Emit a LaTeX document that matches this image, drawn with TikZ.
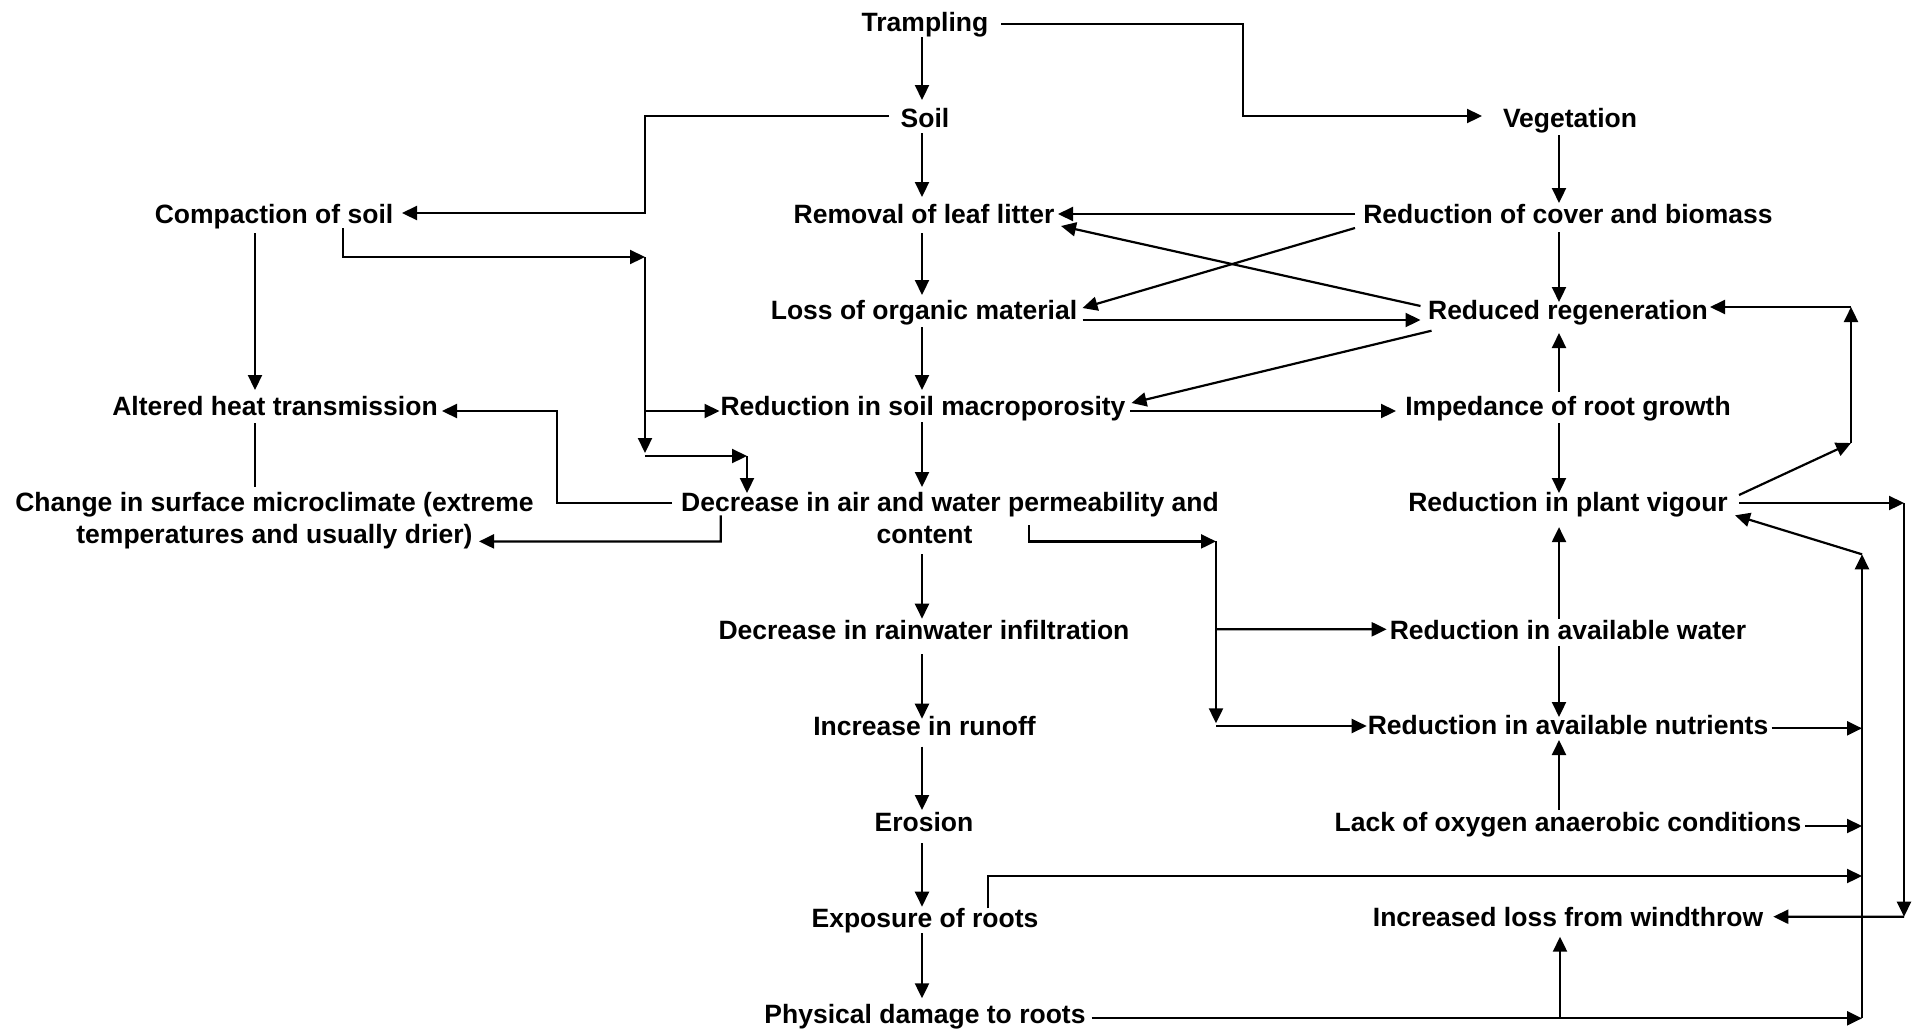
\documentclass[tikz,border=0pt]{standalone}
\usepackage{fontspec}
\setmainfont{Liberation Sans}
\usetikzlibrary{arrows.meta,calc}
\tikzset{
  lbl/.style={inner xsep=0pt, inner ysep=3pt, text height=9.5pt, text depth=0pt,
    font=\fontsize{13.25pt}{16pt}\selectfont\bfseries},
  arr/.style={line width=1.1pt, -{Triangle[length=7.5pt,width=7pt]}},
  ln/.style={line width=1.1pt}
}
\begin{document}
\begin{tikzpicture}[x=0.5pt,y=-0.5pt]
\useasboundingbox (0,0) rectangle (1922,1029);
% nodes
\node[lbl] (tramp) at (925,22) {Trampling};
\node[lbl] (soil) at (925,118) {Soil};
\node[lbl] (veg) at (1570,118) {Vegetation};
\node[lbl] (comp) at (274,214) {Compaction of soil};
\node[lbl] (remov) at (924,214) {Removal of leaf litter};
\node[lbl] (cover) at (1568,214) {Reduction of cover and biomass};
\node[lbl] (loss) at (924,310) {Loss of organic material};
\node[lbl] (regen) at (1568,310) {Reduced regeneration};
\node[lbl] (heat) at (275,406) {Altered heat transmission};
\node[lbl] (macro) at (923,406) {Reduction in soil macroporosity};
\node[lbl] (imped) at (1568,406) {Impedance of root growth};
\node[lbl] (chg1) at (274.5,502) {Change in surface microclimate (extreme};
\node[lbl] (chg2) at (274.5,534) {temperatures and usually drier)};
\node[lbl] (dec1) at (950,502) {Decrease in air and water permeability and};
\node[lbl] (dec2) at (924.5,534) {content};
\node[lbl] (vigour) at (1568,502) {Reduction in plant vigour};
\node[lbl] (rain) at (924,629.5) {Decrease in rainwater infiltration};
\node[lbl] (water) at (1568,629.5) {Reduction in available water};
\node[lbl] (runoff) at (924.5,725.5) {Increase in runoff};
\node[lbl] (nutr) at (1568,725) {Reduction in available nutrients};
\node[lbl] (eros) at (924,821.5) {Erosion};
\node[lbl] (oxy) at (1568,821.5) {Lack of oxygen anaerobic conditions};
\node[lbl] (expo) at (925,918) {Exposure of roots};
\node[lbl] (wind) at (1568,917) {Increased loss from windthrow};
\node[lbl] (phys) at (925,1013.5) {Physical damage to roots};
% junction coordinates
\coordinate (jA) at (645,257);
\coordinate (jA2) at (645,453);
\coordinate (jB) at (1851,443);
\coordinate (jB2) at (1851,307);
\coordinate (jC) at (1904,503);
\coordinate (jC2) at (1904,916.7);
\coordinate (jD) at (1862,554.3);
\coordinate (jD0) at (1862,1018.3);
\coordinate (jE) at (1216,541.4);
\coordinate (jE2) at (1216,723.3);
\coordinate (jF) at (747,456);
% main column
\draw[arr] ($(tramp)+(-3,15)$) -- ($(soil)+(-3,-18)$);
\draw[arr] ($(soil)+(-3,15)$) -- ($(remov)+(-2,-17)$);
\draw[arr] ($(remov)+(-2,19)$) -- ($(loss)+(-2,-15)$);
\draw[arr] ($(loss)+(-2,17)$) -- ($(macro)+(-1,-16)$);
\draw[arr] ($(macro)+(-1,16)$) -- ($(dec1)+(-28,-15)$);
\draw[arr] ($(dec2)+(-2.5,20.3)$) -- ($(rain)+(-2,-10.8)$);
\draw[arr] ($(rain)+(-2,24.8)$) -- ($(runoff)+(-2.5,-6.8)$);
\draw[arr] ($(runoff)+(-2.5,21.2)$) -- ($(eros)+(-2,-11.5)$);
\draw[arr] ($(eros)+(-2,21.8)$) -- ($(expo)+(-3,-11.3)$);
\draw[arr] ($(expo)+(-3,15.3)$) -- ($(phys)+(-3,-15.2)$);
% trampling to vegetation
\draw[arr] ($(tramp)+(76,2)$) -- (1243,24) -- (1243,116) -- ($(veg)+(-88,-2)$);
% soil to compaction
\draw[arr] ($(soil)+(-36,-2)$) -- (645,116) -- (645,213) -- ($(comp)+(128,-1)$);
% right column
\draw[arr] ($(veg)+(-11,17)$) -- ($(cover)+(-9,-11)$);
\draw[arr] ($(cover)+(-9,18)$) -- ($(regen)+(-9,-8)$);
\draw[arr] ($(imped)+(-9,-14)$) -- ($(regen)+(-9,23)$);
\draw[arr] ($(imped)+(-9,17)$) -- ($(vigour)+(-9,-9)$);
\draw[arr] ($(water)+(-9,-10.8)$) -- ($(vigour)+(-9,25.1)$);
\draw[arr] ($(water)+(-9,16.3)$) -- ($(nutr)+(-9,-8)$);
\draw[arr] ($(oxy)+(-9,-11.5)$) -- ($(nutr)+(-9,15)$);
% cross links
\draw[arr] ($(cover)+(-213,0)$) -- ($(remov)+(134,0)$);
\draw[arr] ($(cover)+(-213,14)$) -- ($(loss)+(158.5,-2)$);
\draw[arr] ($(regen)+(-147.5,-4)$) -- ($(remov)+(137,12)$);
\draw[arr] ($(loss)+(158.5,10)$) -- ($(regen)+(-147.5,10)$);
\draw[arr] ($(regen)+(-136.5,20.7)$) -- ($(macro)+(208.5,-3)$);
\draw[arr] ($(macro)+(207,5)$) -- ($(imped)+(-172,5)$);
% left column
\draw[arr] ($(comp)+(-19,19)$) -- ($(heat)+(-20,-16)$);
\draw[ln] ($(heat)+(-20,17)$) -- ($(chg1)+(-19.5,-15)$);
\draw[arr] ($(comp)+(69,14)$) -- (343,257) -- (jA);
\draw[arr] (jA) -- (jA2);
\draw[arr] (645,411) -- ($(macro)+(-203.5,5)$);
\draw[arr] (645,456) -- (jF);
\draw[arr] (jF) -- ($(dec1)+(-203,-9)$);
\draw[arr] ($(dec1)+(-278,0.7)$) -- (557,502.7) -- (557,411) -- ($(heat)+(167,5)$);
\draw[arr] ($(dec2)+(-203.7,-18.7)$) -- (720.8,541.4) -- ($(chg2)+(204.5,7.4)$);
% decrease to water / nutrients
\draw[arr] ($(dec2)+(104.5,-8.6)$) -- (1029,541.4) -- (jE);
\draw[arr] (jE) -- (jE2);
\draw[arr] (1216,726) -- ($(nutr)+(-201.3,1)$);
\draw[arr] (1216,629.3) -- ($(water)+(-181.3,-0.2)$);
% vigour feedback to regeneration
\draw[arr] ($(vigour)+(171,-7)$) -- (jB);
\draw[arr] (jB) -- (jB2);
\draw[arr] (jB2) -- ($(regen)+(142,-3)$);
% vigour to windthrow
\draw[arr] ($(vigour)+(171,1)$) -- (jC);
\draw[arr] (jC) -- (jC2);
\draw[arr] (jC2) -- ($(wind)+(205.3,-0.3)$);
% collector to vigour
\draw[arr] (jD0) -- (jD);
\draw[arr] (jD) -- ($(vigour)+(167,13.3)$);
\draw[arr] ($(nutr)+(203.7,3.3)$) -- (1862,728.3);
\draw[arr] ($(oxy)+(237,4.5)$) -- (1862,826);
\draw[arr] ($(expo)+(63.3,-9.7)$) -- (988.3,876) -- (1862,876);
\draw[arr] ($(phys)+(166.7,4.8)$) -- (jD0);
\draw[arr] (1560,1018.3) -- ($(wind)+(-8,19.7)$);
\end{tikzpicture}
\end{document}
